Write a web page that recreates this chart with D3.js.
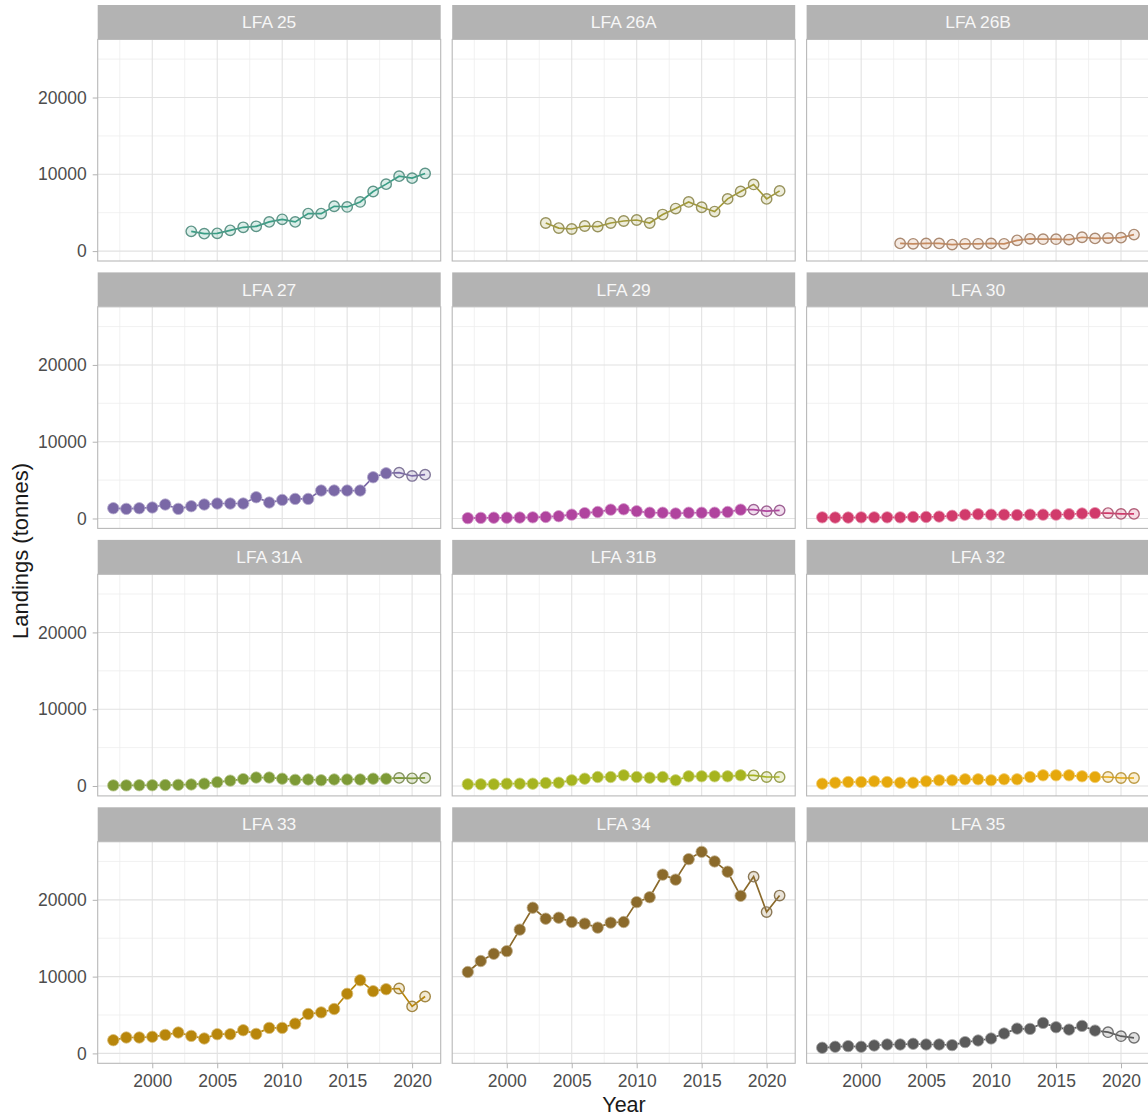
<!DOCTYPE html>
<html><head><meta charset="utf-8">
<script src="https://cdn.jsdelivr.net/npm/d3@7/dist/d3.min.js"></script>
<style>html,body{margin:0;padding:0;background:#fff;}svg{display:block;font-family:"Liberation Sans",Arial,sans-serif;}</style>
</head><body><svg id="c" width="1148" height="1116"></svg>
<script>
const years = [1997,1998,1999,2000,2001,2002,2003,2004,2005,2006,2007,2008,2009,2010,2011,2012,2013,2014,2015,2016,2017,2018,2019,2020,2021];
const panels = ["LFA 25","LFA 26A","LFA 26B","LFA 27","LFA 29","LFA 30","LFA 31A","LFA 31B","LFA 32","LFA 33","LFA 34","LFA 35"];
const colors = ["#3a9e86","#a39a38","#c68a5e","#7a68a6","#b0439e","#d13a6b","#7d9a36","#a6b41f","#e6a80c","#b8860b","#8b6a2b","#5a5a5a"];
// first year drawn as open circle
const openFrom = [1997,1997,1997,2019,2019,2019,2019,2019,2019,2019,2019,2019];
const lfa25  = [null,null,null,null,null,null,2575,2270,2310,2700,3100,3230,3800,4140,3800,4880,4880,5840,5750,6400,7760,8720,9760,9500,10110];
const lfa26A = [null,null,null,null,null,null,3660,3000,2880,3270,3190,3660,3920,4050,3660,4760,5540,6400,5710,5150,6800,7760,8680,6800,7840];
const lfa26B = [null,null,null,null,null,null,1000,950,1000,1000,850,950,950,1000,950,1400,1600,1550,1550,1500,1800,1650,1700,1750,2150];
const lfa27  = [1340,1255,1340,1430,1820,1255,1600,1820,1950,1950,1950,2770,2080,2420,2550,2550,3640,3640,3640,3640,5370,5890,5970,5540,5710];
const lfa29  = [50,80,100,100,120,150,200,300,500,700,850,1150,1200,950,750,750,650,750,750,750,850,1150,1150,950,1050];
const lfa30  = [150,120,120,150,150,150,150,200,200,250,350,500,550,500,500,450,500,500,500,550,650,700,700,600,600];
const lfa31A = [80,80,100,100,120,150,200,300,500,700,900,1100,1100,950,800,850,750,850,850,850,950,950,1050,1000,1050];
const lfa31B = [220,220,220,300,300,300,390,430,740,950,1170,1170,1390,1170,1080,1170,740,1260,1260,1260,1260,1390,1390,1170,1170];
const lfa32  = [300,430,520,520,610,520,430,430,610,740,740,870,870,740,870,870,1170,1390,1390,1390,1260,1170,1170,1040,1040];
const lfa33  = [1720,2070,2070,2160,2410,2720,2280,1940,2500,2500,3020,2540,3320,3320,3880,5130,5340,5780,7760,9530,8100,8360,8450,6120,7410];
const lfa34  = [10600,12030,12970,13320,16120,18970,17540,17670,17110,16900,16380,17030,17110,19700,20340,23280,22630,25300,26250,25000,23660,20520,23020,18410,20560];
const lfa35  = [730,860,950,860,1030,1160,1160,1250,1160,1160,1080,1470,1680,1940,2590,3230,3190,3970,3410,3100,3580,2970,2760,2240,2030];
const series = [lfa25,lfa26A,lfa26B,lfa27,lfa29,lfa30,lfa31A,lfa31B,lfa32,lfa33,lfa34,lfa35];
const yTicks = [0,10000,20000];
const xTicks = [2000,2005,2010,2015,2020];

const svg = d3.select("#c");
const colLeft = [97.7,452.2,806.6], rowTop = [5,272.4,539.9,807.3];
const pw = 343, sh = 34.4, ph = 221.6;
const x = d3.scaleLinear().domain([1995.8,2022.2]).range([0,pw]);
const y = d3.scaleLinear().domain([-1290,27570]).range([ph,0]);
const xMinor = d3.range(1997.5,2022.5,5);
const yMinor = [5000,15000,25000];

panels.forEach((name,i)=>{
  const c = i%3, r = Math.floor(i/3);
  const g = svg.append("g").attr("transform",`translate(${colLeft[c]},${rowTop[r]})`);
  g.append("rect").attr("width",pw).attr("height",sh).attr("fill","#b3b3b3");
  g.append("text").attr("x",pw/2).attr("y",sh/2+6).attr("text-anchor","middle")
    .attr("fill","#f7f7f7").attr("font-size",17.4).text(name);
  const p = g.append("g").attr("transform",`translate(0,${sh})`);
  p.append("rect").attr("width",pw).attr("height",ph).attr("fill","#fff");
  p.selectAll(".ymin").data(yMinor).join("line").attr("x1",0).attr("x2",pw)
    .attr("y1",d=>y(d)).attr("y2",d=>y(d)).attr("stroke","#eeeeee").attr("stroke-width",0.8);
  p.selectAll(".xmin").data(xMinor).join("line").attr("y1",0).attr("y2",ph)
    .attr("x1",d=>x(d)).attr("x2",d=>x(d)).attr("stroke","#eeeeee").attr("stroke-width",0.8);
  p.selectAll(".ymaj").data(yTicks).join("line").attr("x1",0).attr("x2",pw)
    .attr("y1",d=>y(d)).attr("y2",d=>y(d)).attr("stroke","#e2e2e2").attr("stroke-width",1.1);
  p.selectAll(".xmaj").data(xTicks).join("line").attr("y1",0).attr("y2",ph)
    .attr("x1",d=>x(d)).attr("x2",d=>x(d)).attr("stroke","#e2e2e2").attr("stroke-width",1.1);
  p.append("rect").attr("width",pw).attr("height",ph).attr("fill","none").attr("stroke","#b8b8b8").attr("stroke-width",1.1);

  const col = colors[i];
  const pts = years.map((yr,k)=>({yr,v:series[i][k]})).filter(d=>d.v!==null);
  p.append("path").datum(pts).attr("fill","none").attr("stroke",col).attr("stroke-width",1.7)
    .attr("d",d3.line().x(d=>x(d.yr)).y(d=>y(d.v)));
  const grayMix = d3.interpolateRgb(col,"#8a8a8a")(0.45);
  p.selectAll("circle").data(pts).join("circle")
    .attr("cx",d=>x(d.yr)).attr("cy",d=>y(d.v)).attr("r",d=>d.yr>=openFrom[i]?5.2:5.7)
    .attr("fill",d=>d.yr>=openFrom[i]?d3.color(col).copy({opacity:0.18}):col)
    .attr("stroke",d=>d.yr>=openFrom[i]?grayMix:d3.interpolateRgb(col,"#ffffff")(0.45))
    .attr("stroke-width",d=>d.yr>=openFrom[i]?1.4:0.8);

  if(c===0){
    const ya = p.append("g").call(d3.axisLeft(y).tickValues(yTicks).tickSize(5).tickPadding(6).tickFormat(d3.format("d")));
    ya.select(".domain").remove();
    ya.selectAll("line").attr("stroke","#b3b3b3");
    ya.selectAll("text").attr("fill","#4d4d4d").attr("font-size",17.5).attr("font-family","Liberation Sans, Arial, sans-serif");
  }
  if(r===3){
    const xa = p.append("g").attr("transform",`translate(0,${ph})`)
      .call(d3.axisBottom(x).tickValues(xTicks).tickSize(5).tickPadding(6).tickFormat(d3.format("d")));
    xa.select(".domain").remove();
    xa.selectAll("line").attr("stroke","#b3b3b3");
    xa.selectAll("text").attr("fill","#4d4d4d").attr("font-size",17.5).attr("font-family","Liberation Sans, Arial, sans-serif");
  }
});

svg.append("text").attr("transform","translate(28,551) rotate(-90)").attr("text-anchor","middle")
  .attr("font-size",22).attr("fill","#1a1a1a").text("Landings (tonnes)");
svg.append("text").attr("x",624).attr("y",1112).attr("text-anchor","middle")
  .attr("font-size",21.5).attr("fill","#1a1a1a").text("Year");
</script></body></html>
